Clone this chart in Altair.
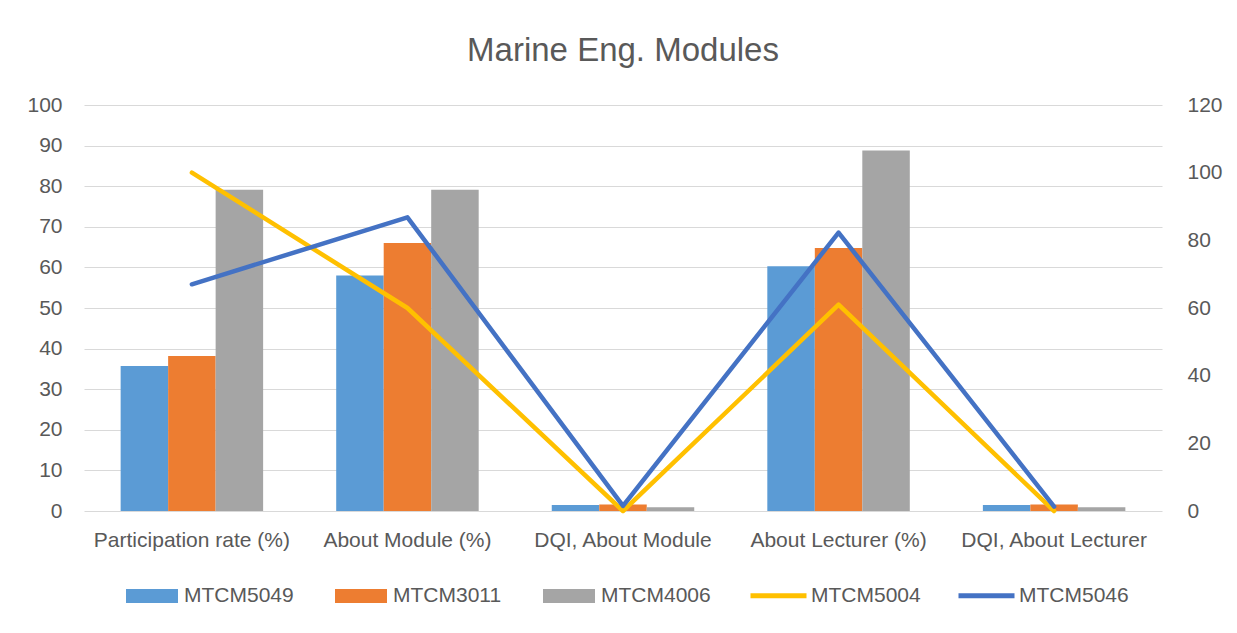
import altair as alt
import pandas as pd

categories = ["Participation rate (%)", "About Module (%)", "DQI, About Module",
              "About Lecturer (%)", "DQI, About Lecturer"]

bar_series = ["MTCM5049", "MTCM3011", "MTCM4006"]
MTCM5049 = [35.7, 58.0, 1.5, 60.3, 1.5]
MTCM3011 = [38.2, 66.0, 1.6, 64.8, 1.6]
MTCM4006 = [79.1, 79.1, 0.9, 88.8, 0.9]
bar_colors = ["#5B9BD5", "#ED7D31", "#A5A5A5"]

line_series = ["MTCM5004", "MTCM5046"]
MTCM5004 = [100.0, 60.0, 0.0, 61.0, 0.0]
MTCM5046 = [67.0, 86.8, 1.5, 82.3, 1.3]
line_colors = ["#FFC000", "#4472C4"]

left_ticks = list(range(0, 101, 10))
right_ticks = list(range(0, 121, 20))

bar_values = {"MTCM5049": MTCM5049, "MTCM3011": MTCM3011, "MTCM4006": MTCM4006}
line_values = {"MTCM5004": MTCM5004, "MTCM5046": MTCM5046}

bars_df = pd.DataFrame([
    {"category": c, "series": s, "value": v, "idx": i}
    for s in bar_series for i, (c, v) in enumerate(zip(categories, bar_values[s]))
])
lines_df = pd.DataFrame([
    {"category": c, "series": s, "value": v, "idx": i}
    for s in line_series for i, (c, v) in enumerate(zip(categories, line_values[s]))
])

FONT = "Liberation Sans"
TXT = "#595959"
GRID = "#D9D9D9"

x_enc = alt.X(
    "category:N", sort=categories,
    scale=alt.Scale(paddingInner=0.339, paddingOuter=0.17),
    axis=alt.Axis(title=None, labelAngle=0, domain=False, ticks=False, grid=False,
                  labelPadding=18, labelLimit=400, labelFontSize=21,
                  labelColor=TXT, labelFont=FONT),
)

bars = alt.Chart(bars_df).mark_bar().encode(
    x=x_enc,
    xOffset=alt.XOffset("series:N", sort=bar_series,
                        scale=alt.Scale(domain=bar_series, paddingInner=0, paddingOuter=0)),
    y=alt.Y("value:Q", scale=alt.Scale(domain=[0, 100], nice=False),
            axis=alt.Axis(values=left_ticks, title=None, grid=True, gridColor=GRID,
                          gridWidth=1.2, domain=False, ticks=False, labelPadding=22,
                          labelFontSize=21, labelColor=TXT, labelFont=FONT)),
    color=alt.Color("series:N", sort=bar_series,
                    scale=alt.Scale(domain=bar_series, range=bar_colors),
                    legend=alt.Legend(orient="none", legendX=42, legendY=465,
                                      direction="horizontal", title=None,
                                      symbolType="M-1,-0.27H1V0.27H-1Z", symbolSize=2704,
                                      symbolStrokeWidth=0, labelFontSize=21, labelFont=FONT,
                                      labelColor=TXT, columnPadding=41, labelOffset=6,
                                      padding=0, labelLimit=300)),
)

lines = alt.Chart(lines_df).mark_line(strokeWidth=4.5, strokeCap="round", strokeJoin="round").encode(
    x=alt.X("category:N", sort=categories),
    y=alt.Y("value:Q", scale=alt.Scale(domain=[0, 120], nice=False),
            axis=alt.Axis(orient="right", values=right_ticks, title=None, grid=False,
                          domain=False, ticks=False, labelPadding=25,
                          labelFontSize=21, labelColor=TXT, labelFont=FONT)),
    stroke=alt.Stroke("series:N", sort=line_series,
                      scale=alt.Scale(domain=line_series, range=line_colors),
                      legend=alt.Legend(orient="none", legendX=664, legendY=460,
                                        direction="horizontal", title=None,
                                        symbolType="stroke", symbolSize=3136,
                                        symbolStrokeWidth=5, labelFontSize=21,
                                        labelFont=FONT, labelColor=TXT, columnPadding=27,
                                        labelOffset=2, padding=0, labelLimit=300)),
    order=alt.Order("idx:Q"),
)

chart = alt.layer(bars, lines).resolve_scale(y="independent").properties(
    width=1078, height=406,
    background="white",
    title=alt.TitleParams("Marine Eng. Modules", fontSize=33, font=FONT, color=TXT,
                          fontWeight="normal", anchor="middle", offset=0,
                          baseline="alphabetic"),
    autosize=alt.AutoSizeParams(type="none"),
    padding={"left": 84, "top": 105, "right": 75, "bottom": 122},
).configure_view(stroke=None)

chart.save("out.html", embed_options={"renderer": "svg", "actions": False})
